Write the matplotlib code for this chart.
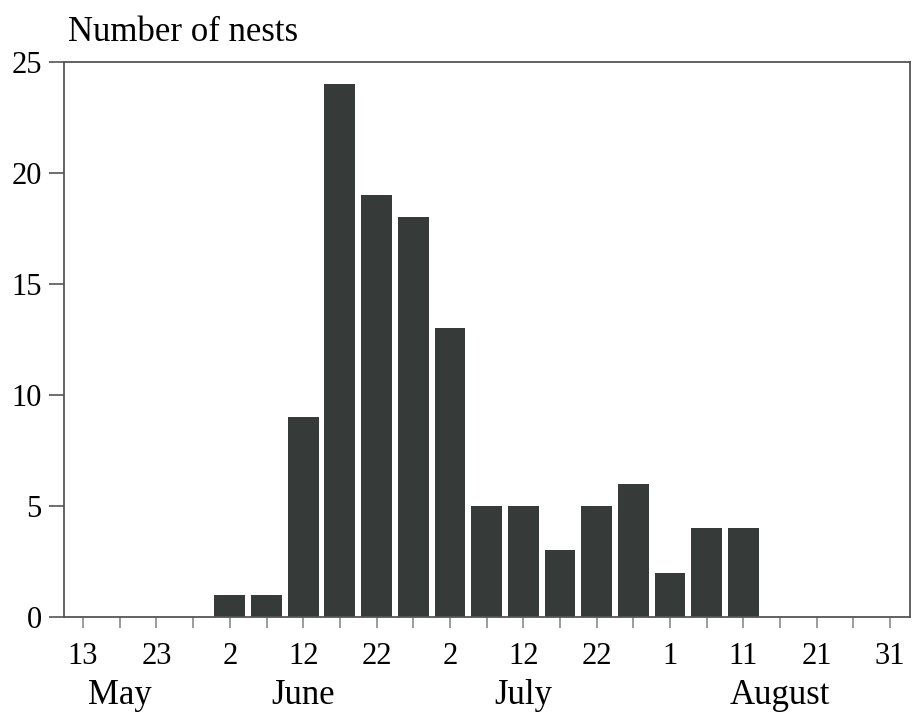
import matplotlib.pyplot as plt

plt.rcParams['font.family'] = ['Liberation Serif', 'DejaVu Serif']

# ── Data: nests per 5-day period (day 0 = 13 May) ──────────────────────────
bar_days = [20, 25, 30, 35, 40, 45, 50, 55, 60, 65, 70, 75, 80, 85, 90]
nests = [1, 1, 9, 24, 19, 18, 13, 5, 5, 3, 5, 6, 2, 4, 4]

tick_days = [0, 10, 20, 30, 40, 50, 60, 70, 80, 90, 100, 110]
tick_labels = ["13", "23", "2", "12", "22", "2", "12", "22", "1", "11", "21", "31"]

month_days = [5, 30, 60, 95]
month_names = ["May", "June", "July", "August"]

y_ticks = [0, 5, 10, 15, 20, 25]

# ── Figure ──────────────────────────────────────────────────────────────────
fig = plt.figure(figsize=(9.16, 7.2), dpi=100)
ax = fig.add_axes([0.0699, 0.143, 0.9235, 0.771])

ax.bar(bar_days, nests, width=4.2, color='#363a38', edgecolor='none', zorder=2)

ax.set_xlim(-2.6, 112.7)
ax.set_ylim(0, 25)

# ── Axes styling ────────────────────────────────────────────────────────────
for side in ['left', 'right', 'top', 'bottom']:
    ax.spines[side].set_color('#555555')
    ax.spines[side].set_linewidth(1.3)

ax.set_yticks(y_ticks)
ax.set_yticklabels([str(v) for v in y_ticks])
ax.tick_params(axis='y', direction='out', length=11, width=1.2, color='#555555',
               labelsize=22, pad=5)

ax.set_xticks(tick_days)
ax.set_xticklabels(tick_labels)
ax.set_xticks(list(range(0, 111, 5)), minor=True)
ax.tick_params(axis='x', which='both', direction='out', length=8, width=1.2,
               color='#8a8a8a', labelsize=22, pad=10)

# month names under the day labels
for d, name in zip(month_days, month_names):
    ax.text(d, -0.112, name, transform=ax.get_xaxis_transform(),
            ha='center', va='top', fontsize=25)

fig.text(0.074, 0.955, "Number of nests", ha='left', va='center', fontsize=25)

fig.savefig("out.png", dpi=100)
